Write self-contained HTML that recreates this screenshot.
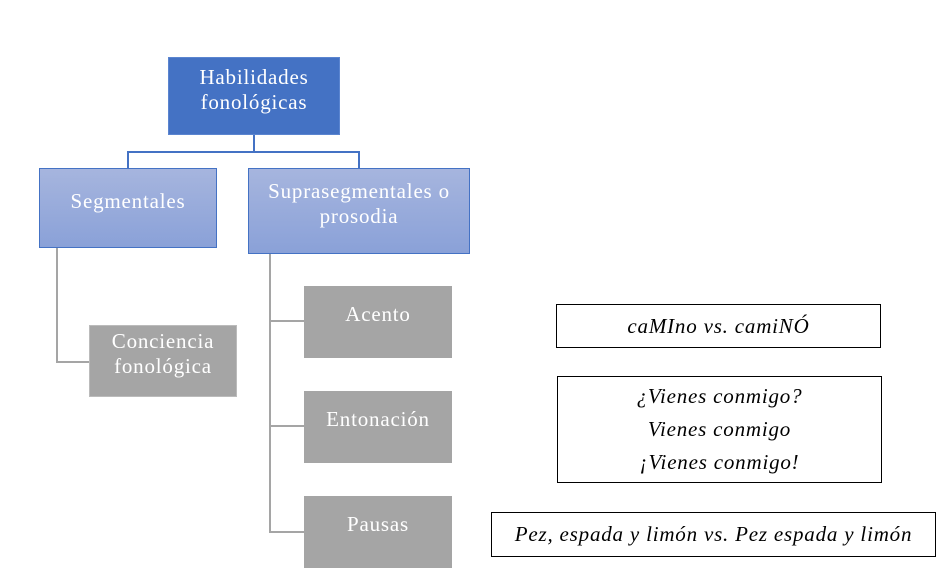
<!DOCTYPE html>
<html><head><style>
body{margin:0;width:940px;height:574px;background:#fff;position:relative;overflow:hidden;font-family:"Liberation Serif",serif;}
.b{position:absolute;box-sizing:border-box;display:flex;justify-content:center;text-align:center;color:#fff;font-size:21px;letter-spacing:0.8px;line-height:25px;white-space:nowrap;}
.l{position:absolute;}
.t{position:absolute;box-sizing:border-box;border:1px solid #000;font-style:italic;font-size:21px;letter-spacing:0.8px;text-align:center;color:#000;display:flex;flex-direction:column;justify-content:center;white-space:nowrap;}
</style></head><body>
<div class="b" style="left:168px;top:57px;width:172px;height:78px;background:#4472c4;border:1px solid #5b85d0;padding-top:7px;">Habilidades<br>fonológicas</div>
<div class="l" style="left:253px;top:135px;width:2px;height:18px;background:#4472c4"></div>
<div class="l" style="left:127px;top:151px;width:233px;height:2px;background:#4472c4"></div>
<div class="l" style="left:127px;top:151px;width:2px;height:17px;background:#4472c4"></div>
<div class="l" style="left:358px;top:151px;width:2px;height:17px;background:#4472c4"></div>
<div class="b" style="left:39px;top:168px;width:178px;height:80px;background:linear-gradient(#a6b5de,#8aa1d8);border:1px solid #4472c4;padding-top:20px;">Segmentales</div>
<div class="b" style="left:248px;top:168px;width:222px;height:86px;background:linear-gradient(#a6b5de,#8aa1d8);border:1px solid #4472c4;padding-top:10px;">Suprasegmentales o<br>prosodia</div>
<div class="l" style="left:56px;top:248px;width:2px;height:115px;background:#a5a5a5"></div>
<div class="l" style="left:56px;top:361px;width:34px;height:2px;background:#a5a5a5"></div>
<div class="b" style="left:89px;top:325px;width:148px;height:72px;background:#a5a5a5;border:1px solid #bbb;padding-top:3px;">Conciencia<br>fonológica</div>
<div class="l" style="left:269px;top:254px;width:2px;height:279px;background:#a5a5a5"></div>
<div class="l" style="left:269px;top:320px;width:35px;height:2px;background:#a5a5a5"></div>
<div class="l" style="left:269px;top:425px;width:35px;height:2px;background:#a5a5a5"></div>
<div class="l" style="left:269px;top:531px;width:35px;height:2px;background:#a5a5a5"></div>
<div class="b" style="left:304px;top:286px;width:148px;height:72px;background:#a5a5a5;padding-top:16px;">Acento</div>
<div class="b" style="left:304px;top:391px;width:148px;height:72px;background:#a5a5a5;padding-top:16px;">Entonación</div>
<div class="b" style="left:304px;top:496px;width:148px;height:72px;background:#a5a5a5;padding-top:16px;">Pausas</div>
<div class="t" style="left:556px;top:304px;width:325px;height:44px;">caMIno vs. camiNÓ</div>
<div class="t" style="left:557px;top:376px;width:325px;height:107px;line-height:33px;">¿Vienes conmigo?<br>Vienes conmigo<br>¡Vienes conmigo!</div>
<div class="t" style="left:491px;top:512px;width:445px;height:45px;">Pez, espada y limón vs. Pez espada y limón</div>
</body></html>
